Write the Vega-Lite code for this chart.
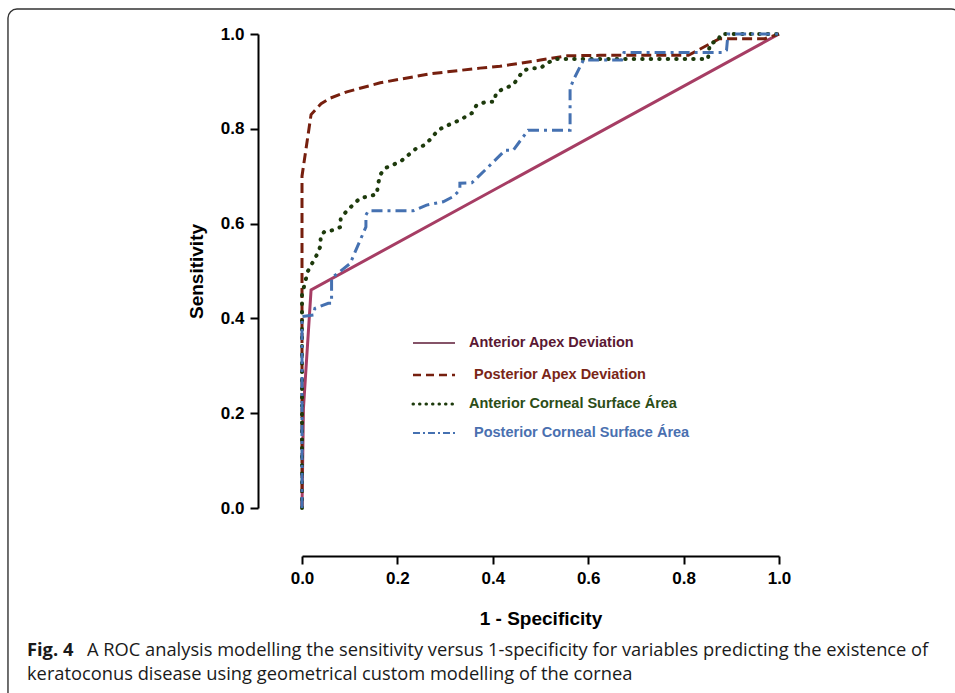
{
  "$schema": "https://vega.github.io/schema/vega-lite/v6.json",
  "width": 477,
  "height": 474,
  "autosize": {"type": "none"},
  "padding": {"left": 302, "top": 34, "right": 176, "bottom": 185},
  "background": "white",
  "config": {"view": {"stroke": null}, "font": "Liberation Sans"},
  "datasets": {
    "roc": [
      {"series": "Anterior Apex Deviation", "x": 0, "y": 0},
      {"series": "Anterior Apex Deviation", "x": 0.003, "y": 0.21},
      {"series": "Anterior Apex Deviation", "x": 0.019, "y": 0.46},
      {"series": "Anterior Apex Deviation", "x": 1, "y": 1},
      {"series": "Posterior Apex Deviation", "x": 0, "y": 0},
      {"series": "Posterior Apex Deviation", "x": 0, "y": 0.70},
      {"series": "Posterior Apex Deviation", "x": 0.019, "y": 0.83},
      {"series": "Posterior Apex Deviation", "x": 0.04, "y": 0.853},
      {"series": "Posterior Apex Deviation", "x": 0.06, "y": 0.865},
      {"series": "Posterior Apex Deviation", "x": 0.094, "y": 0.878},
      {"series": "Posterior Apex Deviation", "x": 0.164, "y": 0.897},
      {"series": "Posterior Apex Deviation", "x": 0.268, "y": 0.916},
      {"series": "Posterior Apex Deviation", "x": 0.373, "y": 0.928},
      {"series": "Posterior Apex Deviation", "x": 0.415, "y": 0.932},
      {"series": "Posterior Apex Deviation", "x": 0.5, "y": 0.945},
      {"series": "Posterior Apex Deviation", "x": 0.556, "y": 0.954},
      {"series": "Posterior Apex Deviation", "x": 0.625, "y": 0.955},
      {"series": "Posterior Apex Deviation", "x": 0.81, "y": 0.955},
      {"series": "Posterior Apex Deviation", "x": 0.875, "y": 0.99},
      {"series": "Posterior Apex Deviation", "x": 0.97, "y": 0.99},
      {"series": "Posterior Apex Deviation", "x": 1, "y": 1},
      {"series": "Anterior Corneal Surface Área", "x": 0, "y": 0},
      {"series": "Anterior Corneal Surface Área", "x": 0, "y": 0.45},
      {"series": "Anterior Corneal Surface Área", "x": 0.012, "y": 0.499},
      {"series": "Anterior Corneal Surface Área", "x": 0.031, "y": 0.534},
      {"series": "Anterior Corneal Surface Área", "x": 0.039, "y": 0.553},
      {"series": "Anterior Corneal Surface Área", "x": 0.039, "y": 0.574},
      {"series": "Anterior Corneal Surface Área", "x": 0.048, "y": 0.584},
      {"series": "Anterior Corneal Surface Área", "x": 0.065, "y": 0.586},
      {"series": "Anterior Corneal Surface Área", "x": 0.081, "y": 0.593},
      {"series": "Anterior Corneal Surface Área", "x": 0.081, "y": 0.611},
      {"series": "Anterior Corneal Surface Área", "x": 0.094, "y": 0.627},
      {"series": "Anterior Corneal Surface Área", "x": 0.122, "y": 0.654},
      {"series": "Anterior Corneal Surface Área", "x": 0.138, "y": 0.657},
      {"series": "Anterior Corneal Surface Área", "x": 0.157, "y": 0.662},
      {"series": "Anterior Corneal Surface Área", "x": 0.159, "y": 0.681},
      {"series": "Anterior Corneal Surface Área", "x": 0.164, "y": 0.703},
      {"series": "Anterior Corneal Surface Área", "x": 0.174, "y": 0.717},
      {"series": "Anterior Corneal Surface Área", "x": 0.191, "y": 0.724},
      {"series": "Anterior Corneal Surface Área", "x": 0.209, "y": 0.733},
      {"series": "Anterior Corneal Surface Área", "x": 0.240, "y": 0.759},
      {"series": "Anterior Corneal Surface Área", "x": 0.258, "y": 0.766},
      {"series": "Anterior Corneal Surface Área", "x": 0.272, "y": 0.781},
      {"series": "Anterior Corneal Surface Área", "x": 0.285, "y": 0.797},
      {"series": "Anterior Corneal Surface Área", "x": 0.302, "y": 0.806},
      {"series": "Anterior Corneal Surface Área", "x": 0.319, "y": 0.813},
      {"series": "Anterior Corneal Surface Área", "x": 0.337, "y": 0.822},
      {"series": "Anterior Corneal Surface Área", "x": 0.356, "y": 0.833},
      {"series": "Anterior Corneal Surface Área", "x": 0.366, "y": 0.850},
      {"series": "Anterior Corneal Surface Área", "x": 0.386, "y": 0.857},
      {"series": "Anterior Corneal Surface Área", "x": 0.403, "y": 0.857},
      {"series": "Anterior Corneal Surface Área", "x": 0.407, "y": 0.876},
      {"series": "Anterior Corneal Surface Área", "x": 0.423, "y": 0.885},
      {"series": "Anterior Corneal Surface Área", "x": 0.442, "y": 0.892},
      {"series": "Anterior Corneal Surface Área", "x": 0.453, "y": 0.907},
      {"series": "Anterior Corneal Surface Área", "x": 0.464, "y": 0.923},
      {"series": "Anterior Corneal Surface Área", "x": 0.482, "y": 0.928},
      {"series": "Anterior Corneal Surface Área", "x": 0.500, "y": 0.928},
      {"series": "Anterior Corneal Surface Área", "x": 0.513, "y": 0.938},
      {"series": "Anterior Corneal Surface Área", "x": 0.530, "y": 0.947},
      {"series": "Anterior Corneal Surface Área", "x": 0.851, "y": 0.947},
      {"series": "Anterior Corneal Surface Área", "x": 0.855, "y": 0.98},
      {"series": "Anterior Corneal Surface Área", "x": 0.872, "y": 0.985},
      {"series": "Anterior Corneal Surface Área", "x": 0.878, "y": 1.0},
      {"series": "Anterior Corneal Surface Área", "x": 1, "y": 1},
      {"series": "Posterior Corneal Surface Área", "x": 0, "y": 0},
      {"series": "Posterior Corneal Surface Área", "x": 0, "y": 0.404},
      {"series": "Posterior Corneal Surface Área", "x": 0.024, "y": 0.407},
      {"series": "Posterior Corneal Surface Área", "x": 0.027, "y": 0.421},
      {"series": "Posterior Corneal Surface Área", "x": 0.055, "y": 0.432},
      {"series": "Posterior Corneal Surface Área", "x": 0.062, "y": 0.432},
      {"series": "Posterior Corneal Surface Área", "x": 0.062, "y": 0.485},
      {"series": "Posterior Corneal Surface Área", "x": 0.101, "y": 0.516},
      {"series": "Posterior Corneal Surface Área", "x": 0.122, "y": 0.565},
      {"series": "Posterior Corneal Surface Área", "x": 0.134, "y": 0.593},
      {"series": "Posterior Corneal Surface Área", "x": 0.134, "y": 0.618},
      {"series": "Posterior Corneal Surface Área", "x": 0.139, "y": 0.627},
      {"series": "Posterior Corneal Surface Área", "x": 0.233, "y": 0.627},
      {"series": "Posterior Corneal Surface Área", "x": 0.261, "y": 0.639},
      {"series": "Posterior Corneal Surface Área", "x": 0.296, "y": 0.646},
      {"series": "Posterior Corneal Surface Área", "x": 0.317, "y": 0.657},
      {"series": "Posterior Corneal Surface Área", "x": 0.331, "y": 0.671},
      {"series": "Posterior Corneal Surface Área", "x": 0.331, "y": 0.685},
      {"series": "Posterior Corneal Surface Área", "x": 0.356, "y": 0.686},
      {"series": "Posterior Corneal Surface Área", "x": 0.391, "y": 0.720},
      {"series": "Posterior Corneal Surface Área", "x": 0.426, "y": 0.755},
      {"series": "Posterior Corneal Surface Área", "x": 0.443, "y": 0.755},
      {"series": "Posterior Corneal Surface Área", "x": 0.474, "y": 0.797},
      {"series": "Posterior Corneal Surface Área", "x": 0.562, "y": 0.797},
      {"series": "Posterior Corneal Surface Área", "x": 0.562, "y": 0.885},
      {"series": "Posterior Corneal Surface Área", "x": 0.569, "y": 0.903},
      {"series": "Posterior Corneal Surface Área", "x": 0.590, "y": 0.945},
      {"series": "Posterior Corneal Surface Área", "x": 0.670, "y": 0.945},
      {"series": "Posterior Corneal Surface Área", "x": 0.675, "y": 0.961},
      {"series": "Posterior Corneal Surface Área", "x": 0.883, "y": 0.961},
      {"series": "Posterior Corneal Surface Área", "x": 0.890, "y": 0.966},
      {"series": "Posterior Corneal Surface Área", "x": 0.893, "y": 1.0},
      {"series": "Posterior Corneal Surface Área", "x": 1, "y": 1}
    ],
    "legend": [
      {"series": "Anterior Apex Deviation"},
      {"series": "Posterior Apex Deviation"},
      {"series": "Anterior Corneal Surface Área"},
      {"series": "Posterior Corneal Surface Área"}
    ]
  },
  "layer": [
    {
      "data": {"name": "roc"},
      "transform": [{"filter": "datum.series === 'Anterior Apex Deviation'"}],
      "mark": {"type": "line", "stroke": "#a63d64", "strokeWidth": 3},
      "encoding": {
        "x": {"field": "x", "type": "quantitative",
          "scale": {"domain": [0, 1], "nice": false, "zero": false},
          "axis": {"title": "1 - Specificity", "offset": 48, "values": [0, 0.2, 0.4, 0.6, 0.8, 1], "format": ".1f", "grid": false,
            "domainColor": "black", "domainWidth": 2, "tickColor": "black", "tickWidth": 2, "tickSize": 8,
            "labelFont": "Liberation Sans", "labelFontWeight": "bold", "labelFontSize": 17, "labelColor": "black", "labelPadding": 6, "labelFlush": false,
            "titleFont": "Liberation Sans", "titleFontWeight": "bold", "titleFontSize": 19, "titleColor": "black", "titlePadding": 23}},
        "y": {"field": "y", "type": "quantitative",
          "scale": {"domain": [0, 1], "nice": false, "zero": false},
          "axis": {"title": "Sensitivity", "offset": 44, "values": [0, 0.2, 0.4, 0.6, 0.8, 1], "format": ".1f", "grid": false,
            "domainColor": "black", "domainWidth": 2, "tickColor": "black", "tickWidth": 2, "tickSize": 8,
            "labelFont": "Liberation Sans", "labelFontWeight": "bold", "labelFontSize": 17, "labelColor": "black", "labelPadding": 6, "labelFlush": false,
            "titleFont": "Liberation Sans", "titleFontWeight": "bold", "titleFontSize": 19, "titleColor": "black", "titlePadding": 14}},
        "order": {"value": null}
      }
    },
    {
      "data": {"values": [{"frame": "box"}]},
      "mark": {"type": "rect", "fill": null, "stroke": "#333333", "strokeWidth": 1.4, "cornerRadius": 9},
      "encoding": {
        "x": {"datum": -0.6164, "type": "quantitative"},
        "x2": {"datum": 1.38},
        "y": {"datum": 1.0527, "type": "quantitative"},
        "y2": {"datum": -0.45}
      }
    },
    {
      "data": {"name": "roc"},
      "transform": [{"filter": "datum.series === 'Posterior Apex Deviation'"}],
      "mark": {"type": "line", "stroke": "#761f0e", "strokeWidth": 3, "strokeDash": [10, 5]},
      "encoding": {
        "x": {"field": "x", "type": "quantitative"},
        "y": {"field": "y", "type": "quantitative"},
        "order": {"value": null}
      }
    },
    {
      "data": {"name": "roc"},
      "transform": [{"filter": "datum.series === 'Anterior Corneal Surface Área'"}],
      "mark": {"type": "line", "stroke": "#1d3a0c", "strokeWidth": 4, "strokeDash": [0.5, 8], "strokeCap": "round"},
      "encoding": {
        "x": {"field": "x", "type": "quantitative"},
        "y": {"field": "y", "type": "quantitative"},
        "order": {"value": null}
      }
    },
    {
      "data": {"name": "roc"},
      "transform": [{"filter": "datum.series === 'Posterior Corneal Surface Área'"}],
      "mark": {"type": "line", "stroke": "#4571b1", "strokeWidth": 3, "strokeDash": [11, 5, 3, 5]},
      "encoding": {
        "x": {"field": "x", "type": "quantitative"},
        "y": {"field": "y", "type": "quantitative"},
        "order": {"value": null}
      }
    },
    {
      "data": {"name": "legend"},
      "transform": [{"filter": "datum.series === 'Anterior Apex Deviation'"}],
      "mark": {"type": "rule", "stroke": "#5c1a36", "strokeWidth": 1.3},
      "encoding": {"x": {"datum": 0.2327, "type": "quantitative"}, "x2": {"datum": 0.3208}, "y": {"datum": 0.3481, "type": "quantitative"}}
    },
    {
      "data": {"name": "legend"},
      "transform": [{"filter": "datum.series === 'Posterior Apex Deviation'"}],
      "mark": {"type": "rule", "stroke": "#761f0e", "strokeWidth": 2.5, "strokeDash": [8, 5]},
      "encoding": {"x": {"datum": 0.2327, "type": "quantitative"}, "x2": {"datum": 0.3208}, "y": {"datum": 0.2806, "type": "quantitative"}}
    },
    {
      "data": {"name": "legend"},
      "transform": [{"filter": "datum.series === 'Anterior Corneal Surface Área'"}],
      "mark": {"type": "rule", "stroke": "#1d3a0c", "strokeWidth": 3, "strokeDash": [0.5, 6], "strokeCap": "round"},
      "encoding": {"x": {"datum": 0.2327, "type": "quantitative"}, "x2": {"datum": 0.3208}, "y": {"datum": 0.2194, "type": "quantitative"}}
    },
    {
      "data": {"name": "legend"},
      "transform": [{"filter": "datum.series === 'Posterior Corneal Surface Área'"}],
      "mark": {"type": "rule", "stroke": "#4571b1", "strokeWidth": 2, "strokeDash": [7, 3, 2, 3]},
      "encoding": {"x": {"datum": 0.2327, "type": "quantitative"}, "x2": {"datum": 0.3208}, "y": {"datum": 0.1582, "type": "quantitative"}}
    },
    {
      "data": {"name": "legend"},
      "transform": [{"filter": "datum.series === 'Anterior Apex Deviation'"}],
      "mark": {"type": "text", "align": "left", "baseline": "middle", "font": "Liberation Sans", "fontWeight": "bold", "fontSize": 14.5, "fill": "#5a1833"},
      "encoding": {"x": {"datum": 0.3501, "type": "quantitative"}, "y": {"datum": 0.3481, "type": "quantitative"}, "text": {"field": "series"}}
    },
    {
      "data": {"name": "legend"},
      "transform": [{"filter": "datum.series === 'Posterior Apex Deviation'"}],
      "mark": {"type": "text", "align": "left", "baseline": "middle", "font": "Liberation Sans", "fontWeight": "bold", "fontSize": 14.5, "fill": "#7a2617"},
      "encoding": {"x": {"datum": 0.3606, "type": "quantitative"}, "y": {"datum": 0.2806, "type": "quantitative"}, "text": {"field": "series"}}
    },
    {
      "data": {"name": "legend"},
      "transform": [{"filter": "datum.series === 'Anterior Corneal Surface Área'"}],
      "mark": {"type": "text", "align": "left", "baseline": "middle", "font": "Liberation Sans", "fontWeight": "bold", "fontSize": 14.5, "fill": "#2c4d17"},
      "encoding": {"x": {"datum": 0.3501, "type": "quantitative"}, "y": {"datum": 0.2194, "type": "quantitative"}, "text": {"field": "series"}}
    },
    {
      "data": {"name": "legend"},
      "transform": [{"filter": "datum.series === 'Posterior Corneal Surface Área'"}],
      "mark": {"type": "text", "align": "left", "baseline": "middle", "font": "Liberation Sans", "fontWeight": "bold", "fontSize": 14.5, "fill": "#4a70b0"},
      "encoding": {"x": {"datum": 0.3606, "type": "quantitative"}, "y": {"datum": 0.1582, "type": "quantitative"}, "text": {"field": "series"}}
    },
    {
      "data": {"values": [{"label": "Fig. 4"}]},
      "mark": {"type": "text", "align": "left", "baseline": "middle", "font": "Open Sans", "fontWeight": "bold", "fontSize": 18.3, "fill": "#1a1a1a"},
      "encoding": {"x": {"datum": -0.5765, "type": "quantitative"}, "y": {"datum": -0.3017, "type": "quantitative"}, "text": {"field": "label"}}
    },
    {
      "data": {"values": [{"label": "A ROC analysis modelling the sensitivity versus 1-specificity for variables predicting the existence of"}]},
      "mark": {"type": "text", "align": "left", "baseline": "middle", "font": "Open Sans", "fontSize": 18.3, "fill": "#1a1a1a"},
      "encoding": {"x": {"datum": -0.4507, "type": "quantitative"}, "y": {"datum": -0.3017, "type": "quantitative"}, "text": {"field": "label"}}
    },
    {
      "data": {"values": [{"label": "keratoconus disease using geometrical custom modelling of the cornea"}]},
      "mark": {"type": "text", "align": "left", "baseline": "middle", "font": "Open Sans", "fontSize": 18.3, "fill": "#1a1a1a"},
      "encoding": {"x": {"datum": -0.5765, "type": "quantitative"}, "y": {"datum": -0.3523, "type": "quantitative"}, "text": {"field": "label"}}
    }
  ]
}
